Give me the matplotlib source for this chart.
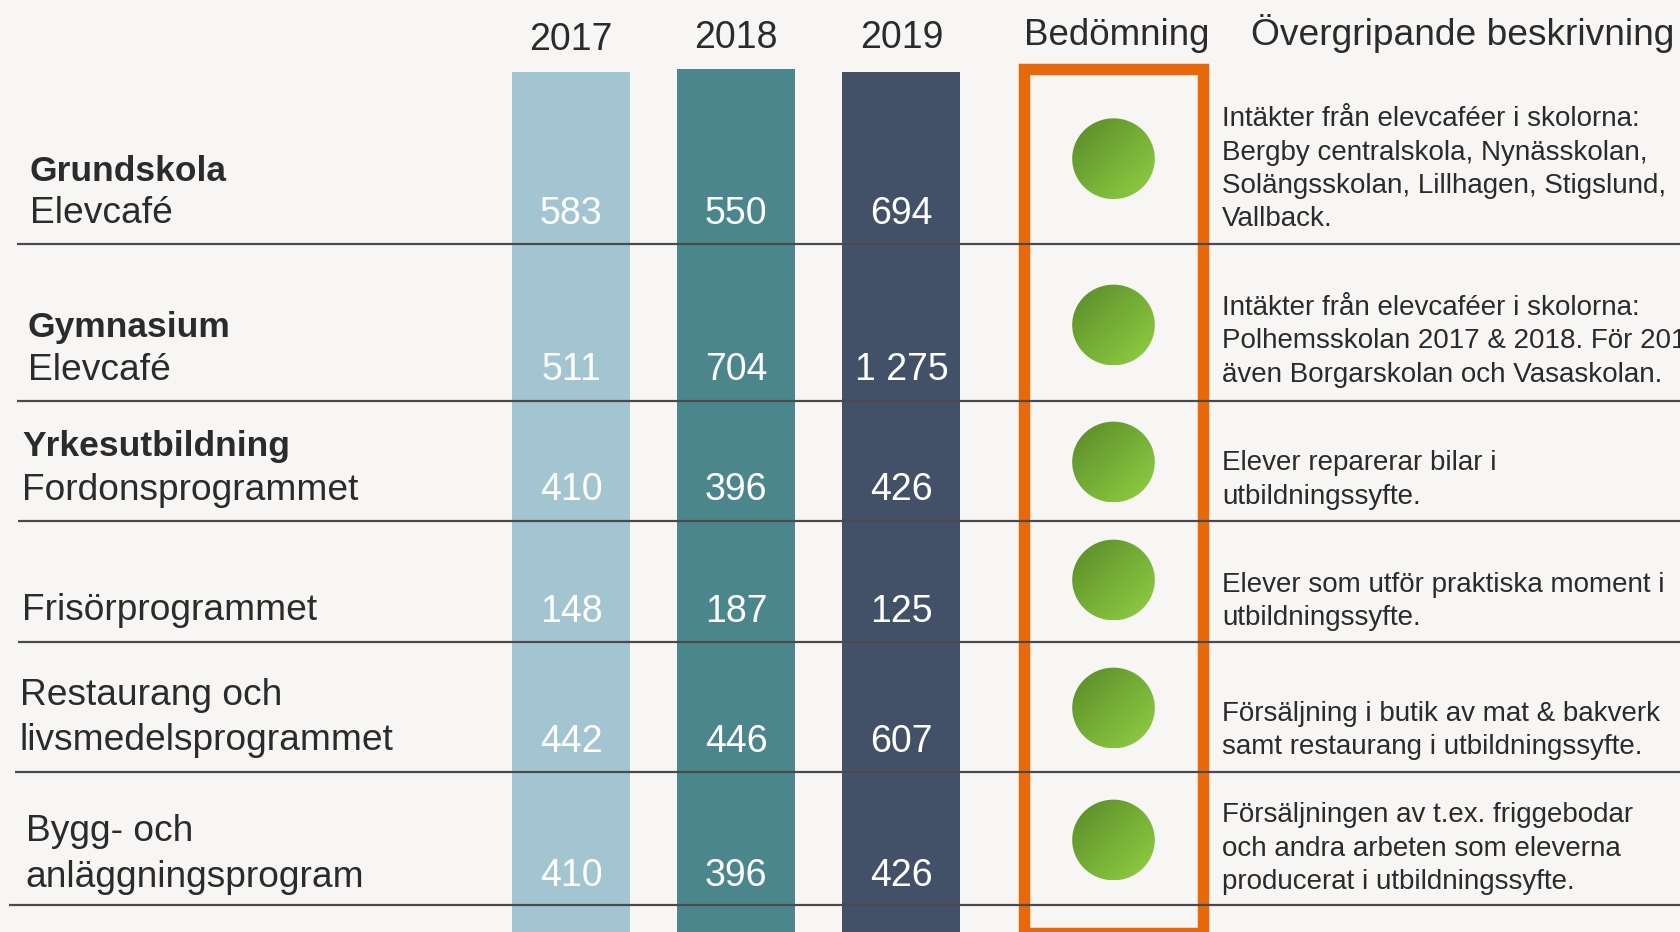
import numpy as np
import matplotlib
matplotlib.use("Agg")
import matplotlib.pyplot as plt
from matplotlib.patches import Ellipse, Rectangle
from matplotlib.colors import LinearSegmentedColormap

# ---------------- data ----------------
years = ["2017", "2018", "2019"]
values_2017 = [583, 511, 410, 148, 442, 410]
values_2018 = [550, 704, 396, 187, 446, 396]
values_2019 = [694, 1275, 426, 125, 607, 426]
assessment = ["grön", "grön", "grön", "grön", "grön", "grön"]

row_labels = [
    [("Grundskola", True), ("Elevcafé", False)],
    [("Gymnasium", True), ("Elevcafé", False)],
    [("Yrkesutbildning", True), ("Fordonsprogrammet", False)],
    [("Frisörprogrammet", False)],
    [("Restaurang och", False), ("livsmedelsprogrammet", False)],
    [("Bygg- och", False), ("anläggningsprogram", False)],
]
descriptions = [
    ["Intäkter från elevcaféer i skolorna:", "Bergby centralskola, Nynässkolan,",
     "Solängsskolan, Lillhagen, Stigslund,", "Vallback."],
    ["Intäkter från elevcaféer i skolorna:", "Polhemsskolan 2017 & 2018. För 2019",
     "även Borgarskolan och Vasaskolan."],
    ["Elever reparerar bilar i", "utbildningssyfte."],
    ["Elever som utför praktiska moment i", "utbildningssyfte."],
    ["Försäljning i butik av mat & bakverk", "samt restaurang i utbildningssyfte."],
    ["Försäljningen av t.ex. friggebodar", "och andra arbeten som eleverna",
     "producerat i utbildningssyfte."],
]
header_assess = "Bedömning"
header_desc = "Övergripande beskrivning"

# ---------------- layout / style ----------------
W, H = 1681, 932
bg = "#f7f6f4"
txt = "#2b2b2b"
bar_colors = ["#a3c5d1", "#4b868d", "#435168"]
orange = "#e8690b"
line_col = "#4a4a4a"

col_x = [571, 736, 901.5]
bar_w = 118
bar_top = [72, 69, 72]
year_base = [50, 48, 48]

row_sep = [244, 401, 521, 642, 772, 905]
sep_start = [17, 17, 18, 18, 15, 9]
label_x = [30, 28, 22.5, 22.5, 20, 25.7]
label_base = [[181, 223], [337, 380], [456, 500], [620], [705, 750], [841, 887]]
num_base = [224, 380, 500, 622, 752, 886]
circle_y = [158.7, 325, 462, 580, 708, 840]
circle_x = 1113.5
circle_w, circle_h = 82.6, 80.7
desc_x = 1222
desc_first = [126, 315, 470, 591.5, 721, 822]
desc_step = 33.5

plt.rcParams['font.family'] = ['Liberation Sans', 'DejaVu Sans']
fs_big = 27
fs_lab = 26.7
fs_bold = 25.5
fs_desc = 20

fig = plt.figure(figsize=(W / 100, H / 100), dpi=100, facecolor=bg)
ax = fig.add_axes([0, 0, 1, 1])
ax.set_xlim(0, W)
ax.set_ylim(H, 0)
ax.set_facecolor(bg)
ax.axis("off")

# bars (full-height columns)
for i, y in enumerate(years):
    ax.bar(col_x[i], H - bar_top[i], bottom=bar_top[i], width=bar_w,
           color=bar_colors[i], zorder=1)
    ax.text(col_x[i], year_base[i], y, ha="center", va="baseline",
            fontsize=fs_big, color=txt, zorder=5)

def fmt(v):
    return f"{v:,}".replace(",", " ")

for r, vals in enumerate(zip(values_2017, values_2018, values_2019)):
    for i, v in enumerate(vals):
        ax.text(col_x[i], num_base[r], fmt(v), ha="center", va="baseline",
                fontsize=fs_big, color="white", zorder=5)

# orange assessment box
box_l, box_r, box_t, box_b = 1024.3, 1202.6, 69.2, 933
ax.add_patch(Rectangle((box_l, box_t), box_r - box_l, box_b - box_t,
                       fill=False, edgecolor=orange, linewidth=11.5 * 0.72,
                       joinstyle="miter", zorder=2, clip_on=False))
ax.text((box_l + box_r) / 2 + 3, 45, header_assess, ha="center", va="baseline",
        fontsize=fs_big - 0.5, color=txt)
ax.text(1251, 45, header_desc, ha="left", va="baseline",
        fontsize=fs_big - 0.3, color=txt)

# green gradient circles
cmap = LinearSegmentedColormap.from_list("g", ["#58882a", "#75ae36", "#93d044"])
n = 200
u = np.linspace(0, 1, n)
G = (u[None, :] + u[:, None]) / 2
for r, a in enumerate(assessment):
    cy = circle_y[r]
    e = Ellipse((circle_x, cy), circle_w, circle_h, facecolor="none",
                edgecolor="none", transform=ax.transData)
    ax.add_patch(e)
    im = ax.imshow(G, cmap=cmap, origin="upper", interpolation="bilinear",
                   extent=(circle_x - circle_w / 2, circle_x + circle_w / 2,
                           cy + circle_h / 2, cy - circle_h / 2), zorder=3)
    im.set_clip_path(e)
ax.set_xlim(0, W)
ax.set_ylim(H, 0)
ax.set_aspect("auto")

# row labels
for r, lines in enumerate(row_labels):
    for k, (t, bold) in enumerate(lines):
        ax.text(label_x[r], label_base[r][k], t, ha="left", va="baseline",
                fontsize=fs_bold if bold else fs_lab, color=txt,
                fontweight="bold" if bold else "normal")

# descriptions
for r, lines in enumerate(descriptions):
    for k, t in enumerate(lines):
        ax.text(desc_x, desc_first[r] + k * desc_step, t, ha="left",
                va="baseline", fontsize=fs_desc, color=txt)

# separators
for y, x0 in zip(row_sep, sep_start):
    ax.plot([x0, W], [y, y], color=line_col, linewidth=2.2 * 0.72, zorder=6,
            solid_capstyle="butt")

fig.savefig("out.png", dpi=100, facecolor=bg)
